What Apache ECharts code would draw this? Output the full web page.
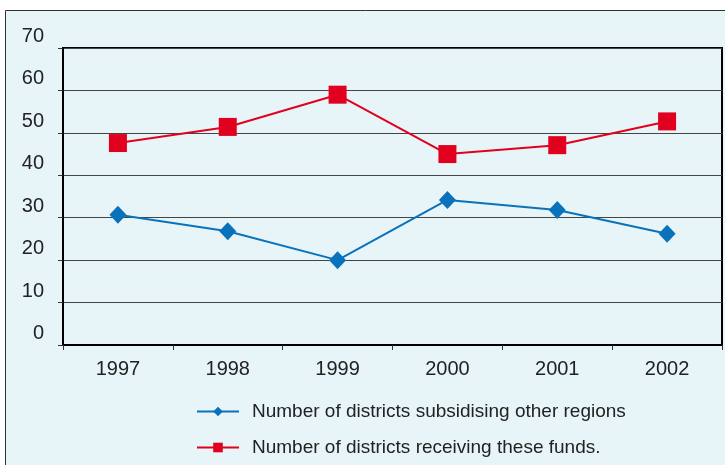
<!DOCTYPE html>
<html><head><meta charset="utf-8">
<script src="https://cdn.jsdelivr.net/npm/echarts@6/dist/echarts.min.js"></script>
<style>html,body{margin:0;padding:0;background:#fff}#c{width:725px;height:465px}</style>
</head><body><div id="c"></div>
<script>
const years = ['1997','1998','1999','2000','2001','2002'];
const subsidising = [30.7, 26.8, 20, 34.2, 31.8, 26.2];
const receiving = [47.6, 51.4, 59, 45, 47.1, 52.7];
const yTicks = [0,10,20,30,40,50,60,70];
const seriesNames = ['Number of districts subsidising other regions','Number of districts receiving these funds.'];

const chart = echarts.init(document.getElementById('c'));
const font = 'Liberation Sans, Arial, sans-serif';
const legendBase = {orient:'vertical', left:191, itemWidth:42, itemHeight:12,
  textStyle:{fontFamily:font, fontSize:19, color:'#222', padding:[0,0,0,8]}};
chart.setOption({
  backgroundColor: '#fff',
  animation: false,
  graphic: [{type:'rect', shape:{x:5.5,y:10.5,width:730,height:470}, style:{fill:'#e7f5f9', stroke:'#333', lineWidth:1}, z:-10}],
  grid: {left:63, right:3, top:48, bottom:120, show:true, borderColor:'#000', borderWidth:2, backgroundColor:'transparent'},
  legend: [
    Object.assign({}, legendBase, {top:397, data:[seriesNames[0]]}),
    Object.assign({}, legendBase, {top:433, data:[seriesNames[1]]})
  ],
  xAxis: {type:'category', data: years, boundaryGap:true,
    axisLine:{lineStyle:{color:'#000', width:2}},
    axisTick:{show:true, length:5, lineStyle:{color:'#333'}},
    axisLabel:{fontFamily:font, fontSize:20, color:'#222', margin:14}},
  yAxis: {type:'value', min:0, max:70, interval:10,
    axisLine:{show:true, lineStyle:{color:'#000', width:2}},
    axisTick:{show:true, length:5, lineStyle:{color:'#333'}},
    splitLine:{lineStyle:{color:'#444', width:1.2}},
    axisLabel:{fontFamily:font, fontSize:20, color:'#222', margin:19, verticalAlign:'bottom', lineHeight:23,
      formatter: v => yTicks.includes(v) ? String(v) : ''}},
  series: [
    {name:seriesNames[0], type:'line', data:subsidising, symbol:'diamond', symbolSize:[17,18],
      lineStyle:{color:'#0a72bb', width:2}, itemStyle:{color:'#0a72bb'}},
    {name:seriesNames[1], type:'line', data:receiving, symbol:'rect', symbolSize:18,
      lineStyle:{color:'#e2001f', width:2}, itemStyle:{color:'#e2001f'}}
  ]
});
</script></body></html>
